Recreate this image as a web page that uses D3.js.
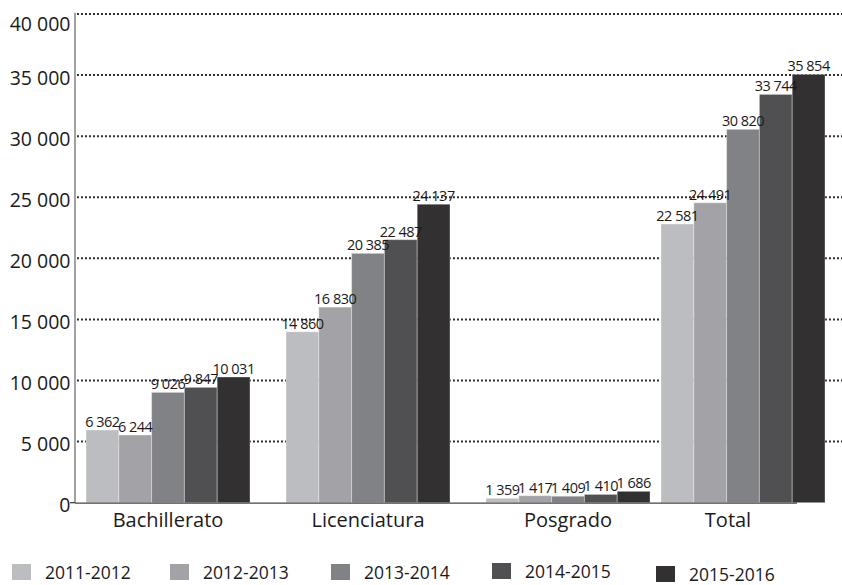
<!DOCTYPE html>
<html>
<head>
<meta charset="utf-8">
<script src="https://cdn.jsdelivr.net/npm/d3@7"></script>
<style>
  html, body { margin: 0; padding: 0; background: #fff; }
  svg { display: block; font-family: "Open Sans", "Noto Sans", sans-serif; }
</style>
</head>
<body>
<svg id="chart" width="842" height="585"></svg>
<script>
// ---- data ----
const categories = ["Bachillerato", "Licenciatura", "Posgrado", "Total"];
const years = ["2011-2012", "2012-2013", "2013-2014", "2014-2015", "2015-2016"];
const colors = ["#bcbdc0", "#a3a2a6", "#818286", "#505052", "#323031"];

// bar heights as drawn in the picture
const bachillerato = [5950, 5540, 9030, 9440, 10290];
const licenciatura = [13990, 16010, 20410, 21530, 24430];
const posgrado = [360, 570, 530, 680, 930];
const total = [22810, 24550, 30560, 33420, 35060];

// numbers printed above the bars
const bachilleratoLabels = [6362, 6244, 9026, 9847, 10031];
const licenciaturaLabels = [14860, 16830, 20385, 22487, 24137];
const posgradoLabels = [1359, 1417, 1409, 1410, 1686];
const totalLabels = [22581, 24491, 30820, 33744, 35854];

const yTicks = [0, 5000, 10000, 15000, 20000, 25000, 30000, 35000, 40000];

const seriesByCat = [bachillerato, licenciatura, posgrado, total];
const labelsByCat = [bachilleratoLabels, licenciaturaLabels, posgradoLabels, totalLabels];

// ---- layout ----
const W = 842, H = 585;
const axisX = 75, plotRight = 825, axisEnd = 797, labelMax = 728;
const svg = d3.select("#chart");
const fmt = d3.formatLocale({ decimal: ",", thousands: " ", grouping: [3], currency: ["", ""] }).format(",d");
const ink = "#1c1a1b";

const y = d3.scaleLinear().domain([0, 40000]).range([502.7, 14]);
const x0 = d3.scaleBand().domain(categories).range([68, 868]).paddingInner(0.18).paddingOuter(0.09);
const groupX = c => Math.min(x0(c), plotRight - x0.bandwidth());
const x1 = d3.scaleBand().domain(years).range([0, x0.bandwidth()]).padding(0);
const color = d3.scaleOrdinal().domain(years).range(colors);

// gridlines
svg.append("g").selectAll("line").data(yTicks.filter(d => d > 0)).join("line")
  .attr("x1", axisX + 2).attr("x2", W)
  .attr("y1", d => y(d)).attr("y2", d => y(d))
  .attr("stroke", "#262626").attr("stroke-width", 2)
  .attr("stroke-dasharray", "1.9,2.1");

// bars
const groups = svg.append("g").selectAll("g").data(categories).join("g")
  .attr("transform", c => `translate(${groupX(c)},0)`);

const rows = (c, i) => years.map((yr, j) => ({ yr, v: seriesByCat[i][j], lab: labelsByCat[i][j] }));

groups.selectAll("rect").data(rows).join("rect")
  .attr("x", d => x1(d.yr))
  .attr("width", x1.bandwidth())
  .attr("y", d => y(d.v))
  .attr("height", d => y(0) - y(d.v))
  .attr("fill", d => color(d.yr))
  .attr("stroke", "rgba(255,255,255,0.35)")
  .attr("stroke-width", 1);

groups.selectAll("text").data(rows).join("text")
  .attr("x", d => x1(d.yr) + x1.bandwidth() / 2)
  .attr("y", d => y(d.v) - 3)
  .attr("text-anchor", "middle")
  .attr("font-size", 14.5)
  .attr("letter-spacing", -0.5)
  .attr("fill", ink)
  .text(d => fmt(d.lab));

// y axis
svg.append("line").attr("x1", axisX).attr("x2", axisX)
  .attr("y1", 12.7).attr("y2", y(0))
  .attr("stroke", "#8a8a8a").attr("stroke-width", 1.6);
svg.append("line").attr("x1", 70).attr("x2", axisX)
  .attr("y1", y(0)).attr("y2", y(0))
  .attr("stroke", "#333").attr("stroke-width", 1.2);

svg.append("g").selectAll("text").data(yTicks).join("text")
  .attr("x", 70.5)
  .attr("y", d => Math.max(y(d) + 9.5, 30.7))
  .attr("text-anchor", "end")
  .attr("font-size", 19.5)
  .attr("fill", ink)
  .text(d => fmt(d));

// x axis
svg.append("line").attr("x1", axisX).attr("x2", axisEnd)
  .attr("y1", y(0) + 0.5).attr("y2", y(0) + 0.5)
  .attr("stroke", "#444").attr("stroke-width", 1.3);

svg.append("g").selectAll("text").data(categories).join("text")
  .attr("x", c => Math.min(groupX(c) + x0.bandwidth() / 2, labelMax))
  .attr("y", 526.5)
  .attr("text-anchor", "middle")
  .attr("font-size", 20)
  .attr("fill", ink)
  .text(c => c);

// legend
const legendX = [12, 170, 331, 492, 656];
const legendY = [564, 564, 564, 563, 566];
const lg = svg.append("g").selectAll("g").data(years).join("g")
  .attr("transform", (d, i) => `translate(${legendX[i]},${legendY[i]})`);
lg.append("rect").attr("width", 19).attr("height", 16).attr("fill", d => color(d));
lg.append("text").attr("x", 33).attr("y", 15)
  .attr("font-size", 17.5).attr("fill", ink)
  .text(d => d);
</script>
</body>
</html>
